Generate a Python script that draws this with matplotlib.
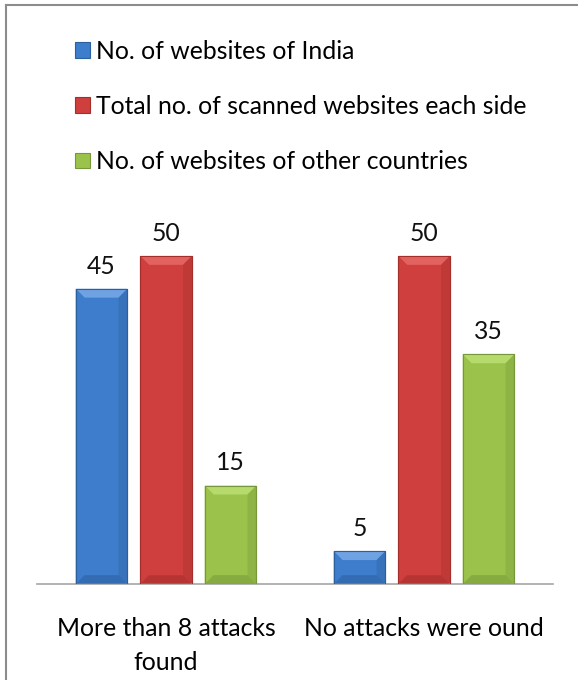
import numpy as np
import matplotlib.pyplot as plt
from matplotlib.patches import Polygon, Rectangle, Patch
from matplotlib.lines import Line2D

# ---- data ----
categories = ["More than 8 attacks\nfound", "No attacks were ound"]
series_names = [
    "No. of websites of India",
    "Total no. of scanned websites each side",
    "No. of websites of other countries",
]
india = [45, 5]
total = [50, 50]
others = [15, 35]

# ---- style ----
plt.rcParams["font.family"] = ["Lato", "DejaVu Sans"]
FS = 17.8
base_cols = ["#3d7dcc", "#cf3f3d", "#9bc34b"]
light_cols = ["#6fa2e2", "#e2625f", "#b7da6d"]
dark_cols = ["#2c5f9e", "#a32e2c", "#76983a"]

fig = plt.figure(figsize=(5.78, 6.8), dpi=100)
ax = fig.add_axes([37 / 578, 96 / 680, 516 / 578, 60 * 6.56 / 680])

x = np.arange(len(categories))
width = 0.2
offsets = [-0.25, 0.0, 0.25]
values = [india, total, others]

bx, by = 0.034, 1.35  # bevel size in data units


def bevel_bar(ax, xc, h, i):
    x0, x1 = xc - width / 2, xc + width / 2
    ax.bar(xc, h, width, color=base_cols[i], edgecolor=dark_cols[i], linewidth=0.8, zorder=2)
    b = min(by, h / 2)
    # top facet
    ax.add_patch(Polygon([(x0, h), (x1, h), (x1 - bx, h - b), (x0 + bx, h - b)],
                         closed=True, facecolor=light_cols[i], edgecolor="none", zorder=3))
    # side facets
    ax.add_patch(Polygon([(x0, 0), (x0, h), (x0 + bx, h - b), (x0 + bx, b)],
                         closed=True, facecolor=base_cols[i], edgecolor="none", alpha=0.9, zorder=3))
    ax.add_patch(Polygon([(x1, 0), (x1, h), (x1 - bx, h - b), (x1 - bx, b)],
                         closed=True, facecolor=dark_cols[i], edgecolor="none", alpha=0.35, zorder=3))
    # bottom facet
    ax.add_patch(Polygon([(x0, 0), (x1, 0), (x1 - bx, b), (x0 + bx, b)],
                         closed=True, facecolor=dark_cols[i], edgecolor="none", alpha=0.55, zorder=3))
    ax.add_patch(Rectangle((x0, 0), width, h, fill=False, edgecolor=dark_cols[i],
                           linewidth=0.8, zorder=4))
    ax.annotate(str(h), (xc, h), xytext=(0, 8), textcoords="offset points",
                ha="center", va="bottom", fontsize=FS, color="#111111")


for i, vals in enumerate(values):
    for j, v in enumerate(vals):
        bevel_bar(ax, x[j] + offsets[i], v, i)

ax.set_xlim(-0.5, 1.5)
ax.set_ylim(0, 60)
ax.set_xticks(x)
ax.set_xticklabels(categories, fontsize=FS, linespacing=1.55)
ax.tick_params(axis="x", length=0, pad=24)
ax.set_yticks([])
for s in ["top", "right", "left"]:
    ax.spines[s].set_visible(False)
ax.spines["bottom"].set_color("#a6a6a6")
ax.spines["bottom"].set_linewidth(1.2)

# legend
handles = [Patch(facecolor=base_cols[i], edgecolor=dark_cols[i], linewidth=0.8) for i in range(3)]
fig.legend(handles, series_names, loc="upper left", bbox_to_anchor=(65 / 578, 1 - 30 / 680),
           frameon=False, fontsize=FS, handlelength=0.6, handleheight=0.6,
           handletextpad=0.25, labelspacing=1.3, borderaxespad=0)

# frame lines (top and left)
fig.add_artist(Line2D([6 / 578, 6 / 578], [0, 1 - 5 / 680], color="#8c8c8c", linewidth=1.5))
fig.add_artist(Line2D([6 / 578, 1], [1 - 5 / 680, 1 - 5 / 680], color="#8c8c8c", linewidth=1.5))

fig.savefig("out.png", dpi=100)
